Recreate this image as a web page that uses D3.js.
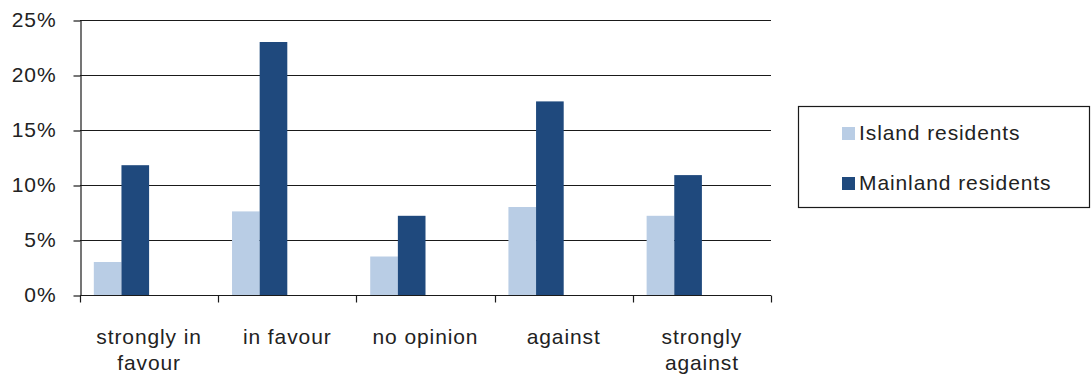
<!DOCTYPE html>
<html>
<head>
<meta charset="utf-8">
<script src="https://cdn.jsdelivr.net/npm/d3@7"></script>
<style>
  html, body { margin: 0; padding: 0; background: #fff; }
  svg { display: block; font-family: "Liberation Sans", Arial, sans-serif; }
  svg text { letter-spacing: 0.9px; }
</style>
</head>
<body>
<svg id="chart" width="1091" height="374"></svg>
<script>
// Share of respondents by opinion, per group of residents
const categories = ["strongly in favour", "in favour", "no opinion", "against", "strongly against"];
const seriesNames = ["Island residents", "Mainland residents"];
const islandValues = [0.030, 0.076, 0.035, 0.080, 0.072];
const mainlandValues = [0.118, 0.230, 0.072, 0.176, 0.109];
const yTickValues = [0, 0.05, 0.10, 0.15, 0.20, 0.25];
const seriesColors = ["#b9cde5", "#1f497d"];

const seriesValues = [islandValues, mainlandValues];
const rows = categories.map((c, i) => ({
  category: c,
  values: seriesNames.map((s, k) => ({ series: s, value: seriesValues[k][i] }))
}));

const svg = d3.select("#chart");
const margin = { left: 80, right: 320, top: 20, bottom: 79 };
const W = +svg.attr("width"), H = +svg.attr("height");
const plotRight = W - margin.right;
const plotBottom = H - margin.bottom;
const fontSize = 21;

const x0 = d3.scaleBand().domain(categories).range([margin.left, plotRight]).padding(0);
const bw = x0.bandwidth();
// bars sit in the left half of each category slot
const x1 = d3.scaleBand().domain(seriesNames).range([bw * 0.1, bw * 0.5]).padding(0);
const y = d3.scaleLinear().domain([0, 0.25]).range([plotBottom, margin.top]);
const color = d3.scaleOrdinal().domain(seriesNames).range(seriesColors);

// horizontal gridlines
svg.append("g")
  .selectAll("line")
  .data(yTickValues.filter(v => v > 0))
  .join("line")
  .attr("x1", margin.left)
  .attr("x2", plotRight)
  .attr("y1", d => Math.round(y(d)) + 0.5)
  .attr("y2", d => Math.round(y(d)) + 0.5)
  .attr("stroke", "#1a1a1a")
  .attr("stroke-width", 1.2);

// bars
svg.append("g")
  .selectAll("g")
  .data(rows)
  .join("g")
  .attr("transform", d => `translate(${x0(d.category)},0)`)
  .selectAll("rect")
  .data(d => d.values)
  .join("rect")
  .attr("x", d => x1(d.series))
  .attr("width", x1.bandwidth())
  .attr("y", d => y(d.value))
  .attr("height", d => y(0) - y(d.value))
  .attr("fill", d => color(d.series));

// y axis
const yAxis = svg.append("g")
  .attr("transform", `translate(${margin.left + 0.5},0)`)
  .call(d3.axisLeft(y).tickValues(yTickValues).tickFormat(d3.format(".0%")).tickSize(7).tickSizeOuter(0).tickPadding(17));
yAxis.select(".domain").attr("stroke", "#1a1a1a").attr("stroke-width", 1.2);
yAxis.selectAll(".tick line").attr("stroke", "#1a1a1a").attr("stroke-width", 1.2)
  .attr("transform", d => `translate(0,${Math.round(y(d)) + 0.5 - y(d)})`);
yAxis.selectAll(".tick text")
  .attr("font-size", fontSize)
  .attr("font-family", "Liberation Sans, Arial, sans-serif")
  .attr("fill", "#222");

// x axis: ticks at category boundaries
const xAxisG = svg.append("g").attr("transform", `translate(0,${Math.round(plotBottom) + 0.5})`);
xAxisG.append("line")
  .attr("x1", margin.left).attr("x2", plotRight)
  .attr("stroke", "#1a1a1a").attr("stroke-width", 1.2);
const boundaries = categories.map(c => x0(c)).concat([x0(categories[categories.length - 1]) + bw]);
xAxisG.selectAll("line.tk")
  .data(boundaries)
  .join("line")
  .attr("class", "tk")
  .attr("x1", d => Math.round(d) + 0.5)
  .attr("x2", d => Math.round(d) + 0.5)
  .attr("y1", 0).attr("y2", 7)
  .attr("stroke", "#1a1a1a").attr("stroke-width", 1.2);

// category labels, wrapped to the slot width
const labels = xAxisG.selectAll("text.cat")
  .data(categories)
  .join("text")
  .attr("class", "cat")
  .attr("x", d => x0(d) + bw / 2)
  .attr("y", 48)
  .attr("text-anchor", "middle")
  .attr("font-size", fontSize)
  .attr("fill", "#222");

labels.each(function (d) {
  const t = d3.select(this);
  const words = d.split(" ");
  const lines = [];
  let line = [];
  const probe = t.append("tspan");
  words.forEach(w => {
    const trial = line.concat([w]).join(" ");
    probe.text(trial);
    if (probe.node().getComputedTextLength() > bw - 14 && line.length) {
      lines.push(line.join(" "));
      line = [w];
    } else {
      line.push(w);
    }
  });
  lines.push(line.join(" "));
  probe.remove();
  lines.forEach((l, i) => {
    t.append("tspan")
      .attr("x", x0(d) + bw / 2)
      .attr("dy", i === 0 ? 0 : 26)
      .text(l);
  });
});

// legend
const legend = svg.append("g");
legend.append("rect")
  .attr("x", 798.5).attr("y", 106.5)
  .attr("width", 291).attr("height", 101)
  .attr("fill", "#fff")
  .attr("stroke", "#1a1a1a").attr("stroke-width", 1.2);
const items = legend.selectAll("g.item")
  .data(seriesNames)
  .join("g")
  .attr("class", "item")
  .attr("transform", (d, i) => `translate(842,${127 + i * 50})`);
items.append("rect")
  .attr("width", 13).attr("height", 13)
  .attr("fill", d => color(d));
items.append("text")
  .attr("x", 17).attr("y", 13)
  .attr("font-size", fontSize)
  .attr("fill", "#222")
  .text(d => d);
</script>
</body>
</html>
